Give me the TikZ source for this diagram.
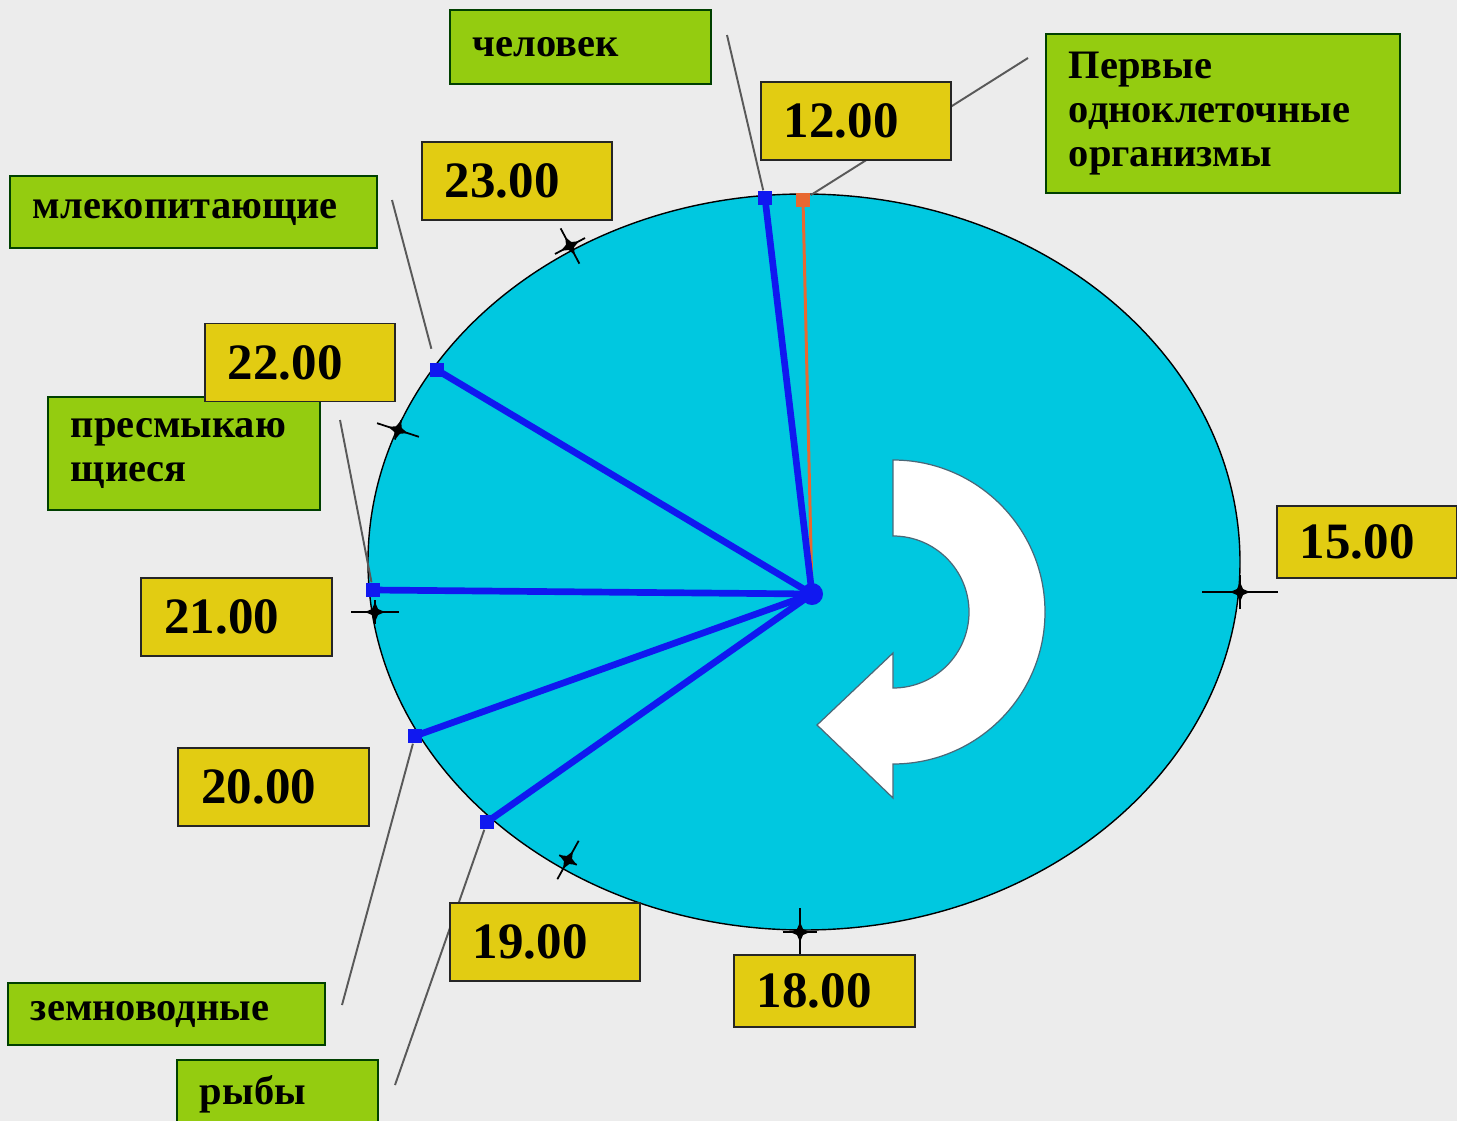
\documentclass[tikz,border=0pt]{standalone}
\usepackage{fontspec}
\setmainfont{Liberation Serif}
\usepackage{tikz}
\definecolor{bggray}{RGB}{236,236,236}
\definecolor{dialcyan}{RGB}{0,200,224}
\definecolor{labelgreen}{RGB}{148,204,16}
\definecolor{labelyellow}{RGB}{226,204,18}
\definecolor{handblue}{RGB}{16,24,240}
\definecolor{handorange}{RGB}{232,104,48}
\tikzset{%
  timebox/.style={rectangle,draw=black!85,fill=labelyellow,line width=0.55pt,inner xsep=0.23cm,inner ysep=0pt,text width=1.44cm,minimum height=0.78cm,align=left,font=\fontsize{14.5}{15}\selectfont\bfseries}
}
\tikzset{%
  namebox/.style={rectangle,draw=black!75!green,fill=labelgreen,line width=0.55pt,inner xsep=0.23cm,inner ysep=0pt,align=left,font=\fontsize{11.5}{12.6}\selectfont\bfseries}
}
\tikzset{%
  handdot/.style={rectangle,fill=#1,minimum size=0.14cm,inner sep=0pt},
  handdot/.default=handblue,
  leader/.style={draw=black!65,line width=0.55pt},
  hand/.style={draw=handblue,line width=1.9pt}
}
\newcommand{\hourmark}[4]{%
  \begin{scope}[shift={#1},rotate=#2]
    \draw[line width=0.5pt] (-#3,0) -- (#3,0) (0,-#4) -- (0,#4);
    \fill (10,0) -- (3,3) -- (0,10) -- (-3,3) -- (-10,0) -- (-3,-3) -- (0,-10) -- (3,-3) -- cycle;
  \end{scope}}

\begin{document}
\begin{tikzpicture}[x=0.01cm,y=0.01cm]
    \fill[bggray] (0,0) rectangle (1457,-1121);
    \useasboundingbox (0,0) rectangle (1457,-1121);
    \clip (0,0) rectangle (1457,-1121);

    \draw[fill=dialcyan,line width=0.4pt] (804,-562) ellipse [x radius=436,y radius=368];

    \filldraw[fill=white,draw=black!60!cyan,line width=0.35pt]
        (893,-460) arc[start angle=90,end angle=-90,radius=152]
        -- (893,-798) -- (817,-725) -- (893,-653) -- (893,-688)
        arc[start angle=-90,end angle=90,radius=76] -- cycle;

    \hourmark{(1240,-592)}{0}{38}{17}
    \hourmark{(800,-932)}{0}{17}{24}
    \hourmark{(375,-612)}{0}{24}{12}
    \hourmark{(398,-430)}{-18}{22}{10}
    \hourmark{(570,-246)}{28}{17}{20}
    \hourmark{(568,-860)}{-29}{10}{22}

    \node[circle,fill=handblue,minimum size=0.22cm,inner sep=0pt] (hub) at (812,-594) {};
    \node[handdot=handorange] (dfirst) at (803,-200) {};
    \node[handdot] (dman) at (765,-198) {};
    \node[handdot] (d22) at (437,-370) {};
    \node[handdot] (d21) at (373,-590) {};
    \node[handdot] (d20) at (415,-736) {};
    \node[handdot] (d19) at (487,-822) {};

    \draw[handorange,line width=0.85pt] (hub.center) -- (dfirst.center);
    \foreach \d in {dman,d22,d21,d20,d19}
        \draw[hand] (hub.center) -- (\d.center);

    \coordinate (lman) at (727,-35);
    \coordinate (lfirst) at (1028,-58);
    \coordinate (lmammals) at (392,-200);
    \coordinate (lreptiles) at (340,-420);
    \coordinate (lamphib) at (342,-1005);
    \coordinate (lfish) at (395,-1085);
    \draw[leader] (lman) -- (dman);
    \draw[leader] (lfirst) -- (dfirst);
    \draw[leader,shorten >=0.14cm] (lmammals) -- (d22);
    \draw[leader] (lreptiles) -- (d21);
    \draw[leader] (lamphib) -- (d20);
    \draw[leader] (lfish) -- (d19);

    \node[namebox,text width=2.15cm,minimum height=0.74cm] (man) at (580.5,-47) {человек};
    \node[namebox,text width=3.08cm,minimum height=1.59cm] (first) at (1223,-113.5) {Первые\\одноклеточные\\организмы};
    \node[namebox,text width=3.21cm,minimum height=0.72cm] (mammals) at (193.5,-212) {млекопитающие};
    \node[namebox,text width=2.26cm,minimum height=1.13cm] (reptiles) at (184,-453.5) {пресмыкаю\\щиеся};
    \node[namebox,text width=2.71cm,minimum height=0.62cm] (amphib) at (166.5,-1014) {земноводные};
    \node[namebox,text width=1.55cm,minimum height=0.68cm] (fish) at (277.5,-1094) {рыбы};

    \node[timebox] (t12) at (856,-121) {12.00};
    \node[timebox] (t23) at (517,-181) {23.00};
    \node[timebox] (t22) at (300,-362.5) {22.00};
    \node[timebox] (t21) at (236.5,-617) {21.00};
    \node[timebox] (t20) at (273.5,-787) {20.00};
    \node[timebox] (t19) at (545,-942) {19.00};
    \node[timebox,text width=1.35cm,minimum height=0.72cm] (t18) at (824.5,-991) {18.00};
    \node[timebox,text width=1.34cm,minimum height=0.72cm] (t15) at (1367,-542) {15.00};
\end{tikzpicture}
\end{document}
